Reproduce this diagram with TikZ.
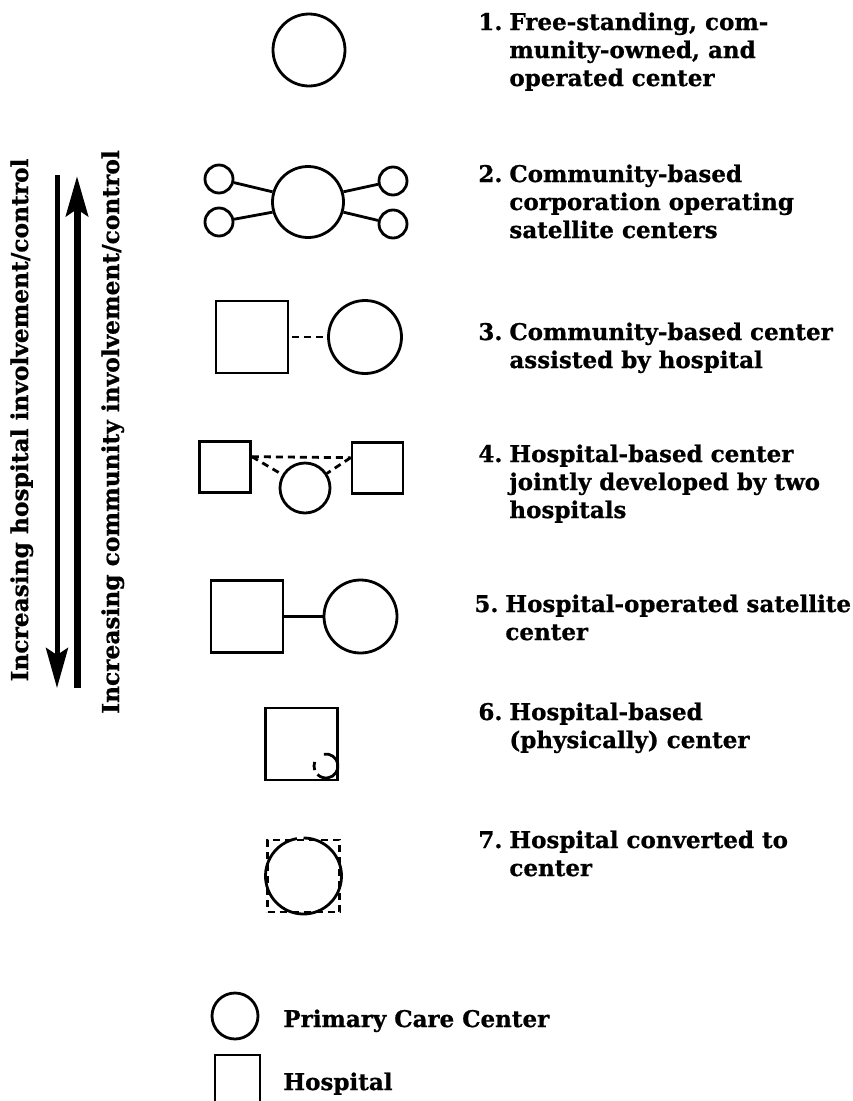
\documentclass[tikz,border=0pt]{standalone}
\usepackage{fontspec}
\setmainfont{DejaVu Serif}[BoldFeatures={FakeBold=0.8}]
\usetikzlibrary{arrows.meta}
\begin{document}
\begin{tikzpicture}[x=1pt, y=1pt, line width=2.8pt,
  pcc/.style={circle, draw, inner sep=0pt, minimum size=#1},
  hosp/.style={rectangle, draw, inner sep=0pt, minimum width=#1, minimum height=#1},
  dashline/.style={dash pattern=on 7pt off 5pt},
  bigfont/.style={font=\fontsize{23}{28}\selectfont\bfseries},
  caption/.style={bigfont, anchor=north west, inner sep=0pt},
  sidelabel/.style={font=\fontsize{23.3}{28}\selectfont\bfseries, anchor=base, inner sep=0pt, rotate=90},
  bigarrow/.style={-{Stealth[length=40pt, width=22pt, inset=7pt]}}]
\useasboundingbox (0,0) rectangle (852,-1101);
\node[pcc=72] (c1) at (309,-50) {};
\node[pcc=71] (c2) at (308,-202) {};
\foreach \n/\x/\y in {a/219/-179, b/219/-222, c/393/-181, d/393/-224}
  \node[pcc=28] (s\n) at (\x,\y) {};
\draw (sa) -- (c2.164);
\draw (sb) -- (c2.196);
\draw (sc) -- (c2.16);
\draw (sd) -- (c2.-16);
\node[hosp=72] (h3) at (252,-337) {};
\node[pcc=73] (c3) at (365,-337) {};
\draw[dashline, shorten <=3pt, shorten >=2pt] (h3) -- (c3);
\node[hosp=51] (h4a) at (225,-467) {};
\node[hosp=51] (h4b) at (377.5,-468) {};
\node[pcc=50] (c4) at (305,-488) {};
\draw[dashline] (h4a.21) -- (h4b.159);
\draw[dashline] (h4a.21) -- (c4);
\draw[dashline] (h4b.159) -- (c4);
\node[hosp=72] (h5) at (247,-616.5) {};
\node[pcc=73] (c5) at (360.5,-616.5) {};
\draw (h5) -- (c5);
\node[hosp=72] (h6) at (301.5,-744) {};
\draw (326,-766) ++(100:12) arc[start angle=100, end angle=-135, radius=12];
\draw (326,-766) ++(160:12) arc[start angle=160, end angle=200, radius=12];
\node[hosp=72, dashline] (h7) at (303.5,-876) {};
\draw (303.5,-876) ++(100:38) arc[start angle=100, end angle=450, radius=38];
\foreach \k/\x/\y/\txt in {1/477/9/{Free-standing, com-\\munity-owned, and\\operated center},
    2/477/161/{Community-based\\corporation operating\\satellite centers},
    3/477/319/{Community-based center\\assisted by hospital},
    4/477/441/{Hospital-based center\\jointly developed by two\\hospitals},
    5/473/591/{Hospital-operated satellite\\center},
    6/477/699/{Hospital-based\\(physically) center},
    7/477/827/{Hospital converted to\\center}}
  \node[caption] (t\k) at (\x,-\y) {\k.\hspace{7pt}\begin{tabular}[t]{@{}l@{}}\txt\end{tabular}};
\coordinate (hiTop) at (57,-175);
\coordinate (hiBot) at (57,-688);
\coordinate (coBot) at (77,-688);
\coordinate (coTop) at (77,-176);
\draw[bigarrow, line width=5pt] (hiTop) -- (hiBot);
\draw[bigarrow, line width=7pt] (coBot) -- (coTop);
\node[sidelabel] (hiTxt) at (28,-420) {Increasing hospital involvement/control};
\node[sidelabel] (coTxt) at (119,-432) {Increasing community involvement/control};
\node[pcc=46] (lc) at (235,-1016) {};
\node[bigfont, anchor=base west, inner sep=0pt] (lcTxt) at (282,-1027) {Primary Care Center};
\node[rectangle, draw, inner sep=0pt, minimum width=45, minimum height=48] (lh) at (237.5,-1079) {};
\node[bigfont, anchor=base west, inner sep=0pt] (lhTxt) at (282,-1090) {Hospital};
\end{tikzpicture}
\end{document}
